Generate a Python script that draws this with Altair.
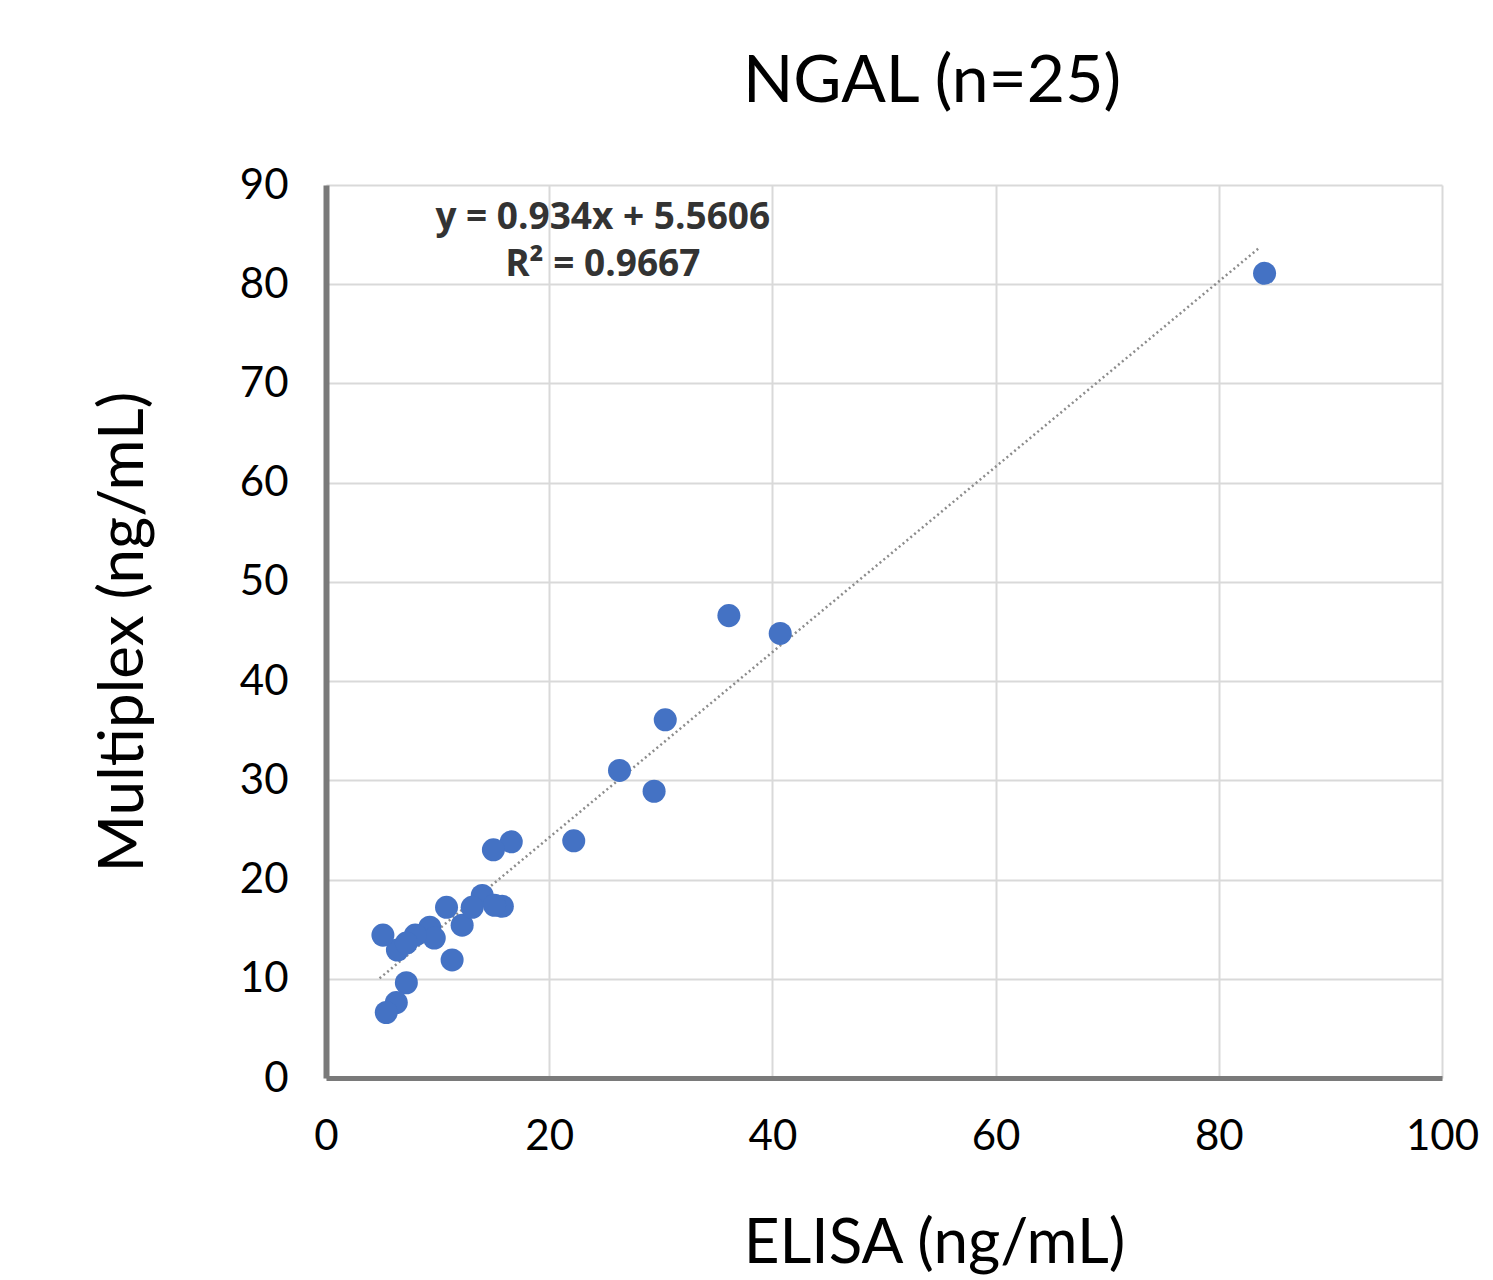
import altair as alt
import pandas as pd

elisa = [84.1, 36.1, 40.7, 30.4, 26.3, 29.4, 22.2, 16.6, 15.0,
         14.0, 15.8, 15.1, 10.8, 12.2, 13.1, 9.3, 9.7, 8.0, 6.4,
         5.1, 7.2, 11.3, 7.2, 6.3, 5.4]
multiplex = [81.1, 46.6, 44.8, 36.1, 31.0, 28.9, 23.9, 23.8, 23.0,
             18.4, 17.3, 17.4, 17.2, 15.4, 17.2, 15.2, 14.1, 14.4, 12.9,
             14.4, 13.6, 11.9, 9.6, 7.6, 6.6]

slope = 0.934
intercept = 5.5606
trend_x = [4.8, 83.7]

eq_lines = ["y = 0.934x + 5.5606", "R² = 0.9667"]
eq_x = [24.8, 24.8]
eq_y = [86.7, 81.9]

x_ticks = [0, 20, 40, 60, 80, 100]
y_ticks = [0, 10, 20, 30, 40, 50, 60, 70, 80, 90]

pts = pd.DataFrame({"ELISA": elisa, "Multiplex": multiplex})
trend = pd.DataFrame({"ELISA": trend_x})
eq = pd.DataFrame({"text": eq_lines, "ex": eq_x, "ey": eq_y})

FONT = "Lato"

xscale = alt.Scale(domain=[0, 100], nice=False, zero=True)
yscale = alt.Scale(domain=[0, 90], nice=False, zero=True)

x_axis = alt.Axis(
    values=x_ticks, title="ELISA (ng/mL)", grid=True, gridColor="#d9d9d9", gridWidth=2,
    domainColor="#7a7a7a", domainWidth=5, ticks=False, labelPadding=38,
    labelFontSize=42, labelFont=FONT, labelColor="#000000", labelFlush=False,
    titleFontSize=62, titleFont=FONT, titleFontWeight="normal", titleColor="#000000",
    titlePadding=56, titleX=608, titleAlign="center",
)
y_axis = alt.Axis(
    values=y_ticks, title="Multiplex (ng/mL)", grid=True, gridColor="#d9d9d9", gridWidth=2,
    domainColor="#7a7a7a", domainWidth=6, ticks=False, labelPadding=38,
    labelFontSize=42, labelFont=FONT, labelColor="#000000",
    titleFontSize=62, titleFont=FONT, titleFontWeight="normal", titleColor="#000000",
    titlePadding=84,
)

points = alt.Chart(pts).mark_circle(size=530, color="#4472C4", opacity=1).encode(
    x=alt.X("ELISA:Q", scale=xscale, axis=x_axis),
    y=alt.Y("Multiplex:Q", scale=yscale, axis=y_axis),
)

line = alt.Chart(trend).transform_calculate(
    Multiplex=f"{slope} * datum.ELISA + {intercept}"
).mark_line(color="#8c8c8c", strokeDash=[2, 3], strokeWidth=2.5).encode(
    x=alt.X("ELISA:Q", scale=xscale),
    y=alt.Y("Multiplex:Q", scale=yscale),
)

text = alt.Chart(eq).mark_text(
    font="Open Sans", fontSize=37, fontWeight="bold", color="#333333",
    align="center", baseline="middle",
).encode(
    x=alt.X("ex:Q", scale=xscale),
    y=alt.Y("ey:Q", scale=yscale),
    text="text:N",
)

chart = alt.layer(line, points, text).properties(
    width=1116, height=893,
    title=alt.TitleParams("NGAL (n=25)", fontSize=66, font=FONT, fontWeight="normal",
                          color="#000000", anchor="middle", dx=48, offset=48),
    autosize=alt.AutoSizeParams(type="none"),
    padding={"left": 318, "top": 177, "right": 40, "bottom": 200},
).configure_view(stroke=None)

chart.save("out.html", embed_options={"renderer": "svg", "actions": False})
